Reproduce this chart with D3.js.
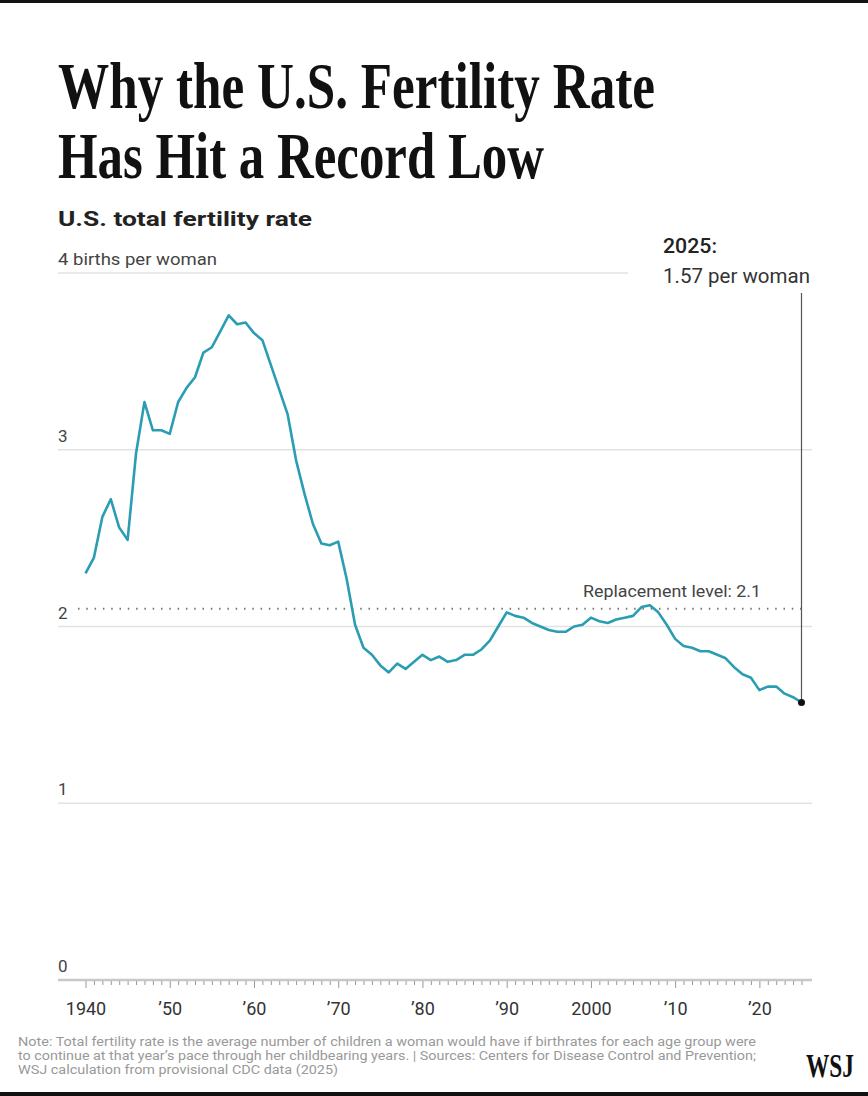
<!DOCTYPE html>
<html lang="en">
<head>
<meta charset="utf-8">
<script src="https://d3js.org/d3.v7.min.js"></script>
<style>
  body { margin: 0; background: #fff; }
  svg { display: block; }
  .cond { font-family: "Roboto", "Liberation Sans", sans-serif; }
  .serif { font-family: "Liberation Serif", "DejaVu Serif", serif; font-weight: bold; }
  .axis text { font-size: 18px; fill: #333; }
</style>
</head>
<body>
<svg width="868" height="1096"></svg>
<script>
// data
var years = d3.range(1940, 2026);
var rates = [
  2.30, 2.39, 2.62, 2.72, 2.56, 2.49, 2.98, 3.27, 3.11, 3.11,
  3.09, 3.27, 3.35, 3.41, 3.55, 3.58, 3.67, 3.76, 3.71, 3.72,
  3.66, 3.62, 3.48, 3.34, 3.20, 2.94, 2.75, 2.58, 2.47, 2.46,
  2.48, 2.27, 2.01, 1.88, 1.84, 1.78, 1.74, 1.79, 1.76, 1.80,
  1.84, 1.81, 1.83, 1.80, 1.81, 1.84, 1.84, 1.87, 1.92, 2.00,
  2.08, 2.06, 2.05, 2.02, 2.00, 1.98, 1.97, 1.97, 2.00, 2.01,
  2.05, 2.03, 2.02, 2.04, 2.05, 2.06, 2.11, 2.12, 2.08, 2.01,
  1.93, 1.89, 1.88, 1.86, 1.86, 1.84, 1.82, 1.77, 1.73, 1.71,
  1.64, 1.66, 1.66, 1.62, 1.60, 1.57
];
var yTicks = [0, 1, 2, 3, 4];
var yTickLabels = ["0", "1", "2", "3", "4 births per woman"];
var xTicks = [1940, 1950, 1960, 1970, 1980, 1990, 2000, 2010, 2020];
var xTickLabels = ["1940", "\u201950", "\u201960", "\u201970", "\u201980", "\u201990", "2000", "\u201910", "\u201920"];
var replacement = 2.1;

var svg = d3.select("svg"),
    width = +svg.attr("width"),
    height = +svg.attr("height");

var x = d3.scaleLinear().domain([1940, 2025]).range([85.5, 801.5]);
var y = d3.scaleLinear().domain([0, 4]).range([980, 273]);

// frame bars
svg.append("rect").attr("x", 0).attr("y", 0).attr("width", width).attr("height", 3).attr("fill", "#111");
svg.append("rect").attr("x", 0).attr("y", height - 4).attr("width", width).attr("height", 4).attr("fill", "#111");

// headline
svg.append("text").attr("class", "serif")
    .attr("x", 58).attr("y", 108)
    .attr("font-size", 66).attr("fill", "#111")
    .attr("textLength", 597).attr("lengthAdjust", "spacingAndGlyphs")
    .text("Why the U.S. Fertility Rate");
svg.append("text").attr("class", "serif")
    .attr("x", 58).attr("y", 178)
    .attr("font-size", 66).attr("fill", "#111")
    .attr("textLength", 486).attr("lengthAdjust", "spacingAndGlyphs")
    .text("Has Hit a Record Low");

svg.append("text").attr("class", "cond")
    .attr("x", 58).attr("y", 226)
    .attr("font-size", 21).attr("font-weight", "bold").attr("fill", "#222")
    .attr("textLength", 254).attr("lengthAdjust", "spacingAndGlyphs")
    .text("U.S. total fertility rate");

// gridlines
var grid = svg.append("g");
grid.selectAll("line")
    .data(yTicks.filter(function(d) { return d > 0; }))
    .enter().append("line")
      .attr("x1", 58)
      .attr("x2", function(d) { return d === 4 ? 628 : 812; })
      .attr("y1", function(d) { return y(d); })
      .attr("y2", function(d) { return y(d); })
      .attr("stroke", "#e2e2e2")
      .attr("stroke-width", 1.5);

grid.selectAll("text")
    .data(yTicks)
    .enter().append("text")
      .attr("class", "cond")
      .attr("x", 58)
      .attr("y", function(d) { return y(d) - 8; })
      .attr("font-size", 17)
      .attr("fill", "#444")
      .attr("textLength", function(d) { return d === 4 ? 159 : null; })
      .attr("lengthAdjust", "spacingAndGlyphs")
      .text(function(d, i) { return yTickLabels[i]; });

// replacement level
svg.append("line")
    .attr("x1", 78).attr("x2", 806)
    .attr("y1", y(replacement)).attr("y2", y(replacement))
    .attr("stroke", "#777").attr("stroke-width", 2)
    .attr("stroke-dasharray", "1.5,6.8");
svg.append("text").attr("class", "cond")
    .attr("x", 761).attr("y", 597)
    .attr("text-anchor", "end")
    .attr("font-size", 16).attr("fill", "#444")
    .attr("textLength", 178).attr("lengthAdjust", "spacingAndGlyphs")
    .text("Replacement level: 2.1");

// x axis
svg.append("line")
    .attr("x1", 58).attr("x2", 812)
    .attr("y1", 980).attr("y2", 980)
    .attr("stroke", "#c8c8c8").attr("stroke-width", 2.5);

var minor = svg.append("g").attr("class", "axis")
    .attr("transform", "translate(0,981)")
    .call(d3.axisBottom(x).tickValues(years.filter(function(d) { return d % 10 !== 0; }))
      .tickSize(4).tickFormat(""));
minor.select(".domain").remove();

var major = svg.append("g").attr("class", "axis cond")
    .attr("transform", "translate(0,981)")
    .call(d3.axisBottom(x).tickValues(xTicks).tickSize(7).tickPadding(14)
      .tickFormat(function(d, i) { return xTickLabels[i]; }));
major.select(".domain").remove();
major.attr("font-family", null);
svg.selectAll(".axis line").attr("stroke", "#999");

// annotation
svg.append("line")
    .attr("x1", x(2025)).attr("x2", x(2025))
    .attr("y1", 293).attr("y2", y(rates[rates.length - 1]))
    .attr("stroke", "#555").attr("stroke-width", 1.2);

svg.append("text").attr("class", "cond")
    .attr("x", 663).attr("y", 253)
    .attr("font-size", 21).attr("font-weight", 500).attr("fill", "#222")
    .attr("textLength", 54).attr("lengthAdjust", "spacingAndGlyphs")
    .text("2025:");
svg.append("text").attr("class", "cond")
    .attr("x", 663).attr("y", 283)
    .attr("font-size", 21).attr("fill", "#333")
    .attr("textLength", 147).attr("lengthAdjust", "spacingAndGlyphs")
    .text("1.57 per woman");

// the line
var line = d3.line()
    .x(function(d, i) { return x(years[i]); })
    .y(function(d) { return y(d); });

svg.append("path")
    .datum(rates)
    .attr("d", line)
    .attr("fill", "none")
    .attr("stroke", "#2b9db3")
    .attr("stroke-width", 2.6)
    .attr("stroke-linejoin", "round");

svg.append("circle")
    .attr("cx", x(2025)).attr("cy", y(rates[rates.length - 1]))
    .attr("r", 3.5).attr("fill", "#111");

// footnote
var notes = [
  "Note: Total fertility rate is the average number of children a woman would have if birthrates for each age group were",
  "to continue at that year\u2019s pace through her childbearing years. | Sources: Centers for Disease Control and Prevention;",
  "WSJ calculation from provisional CDC data (2025)"
];
var noteWidths = [738, 738, 320];
svg.append("g").selectAll("text")
    .data(notes)
    .enter().append("text")
      .attr("class", "cond")
      .attr("x", 18)
      .attr("y", function(d, i) { return 1046 + i * 14; })
      .attr("font-size", 12.5)
      .attr("fill", "#999")
      .attr("textLength", function(d, i) { return noteWidths[i]; })
      .attr("lengthAdjust", "spacingAndGlyphs")
      .text(function(d) { return d; });

// logo, stretched vertically so its natural width stays inside the frame
svg.append("text").attr("class", "serif")
    .attr("transform", "translate(806,1077) scale(1,1.35)")
    .attr("font-size", 25).attr("fill", "#111")
    .attr("textLength", 48).attr("lengthAdjust", "spacingAndGlyphs")
    .text("WSJ");
</script>
</body>
</html>
